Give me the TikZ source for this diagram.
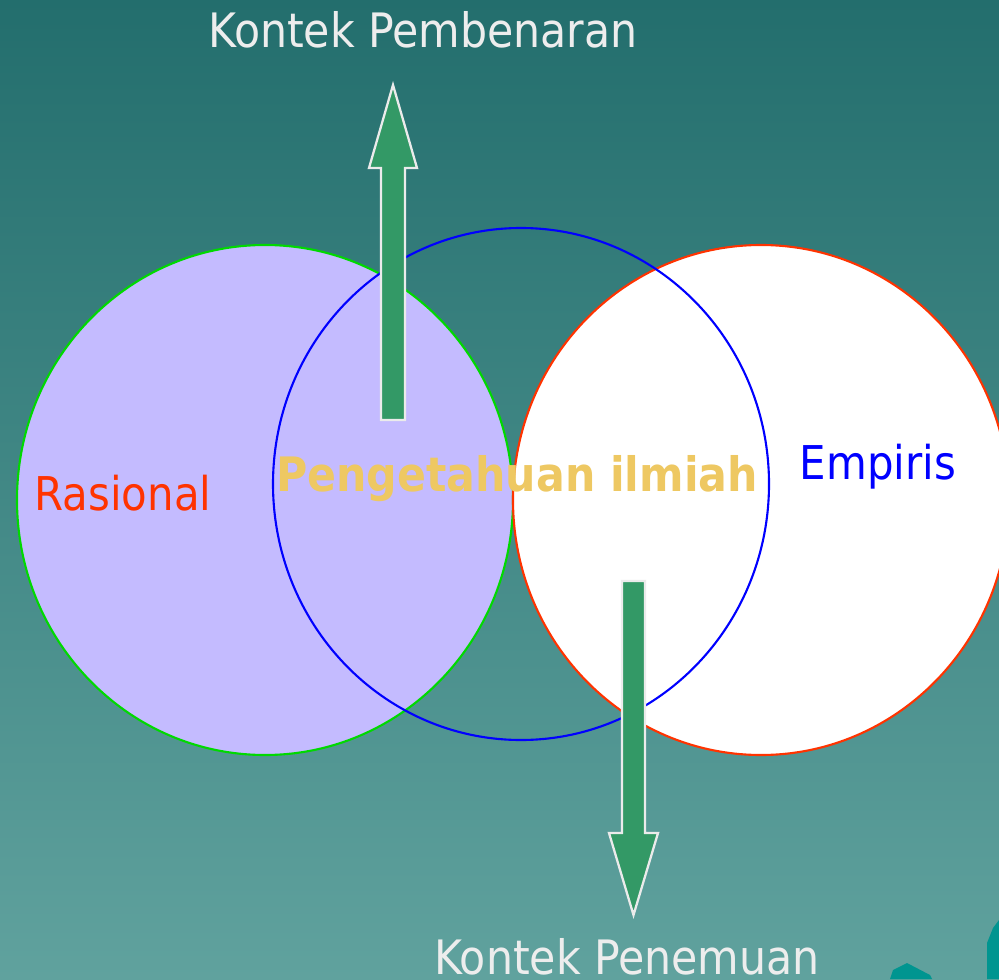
\documentclass[tikz,border=0pt]{standalone}
\usepackage{fontspec}
\setmainfont{DejaVu Sans}
\newfontfamily\condfont{DejaVu Sans Condensed}
\usepackage{tikz}
\usetikzlibrary{calc,positioning}

\definecolor{bgtop}{HTML}{236E6D}
\definecolor{bgbottom}{HTML}{60A29E}
\definecolor{lavender}{HTML}{C4BBFF}
\definecolor{arrowgreen}{HTML}{339966}
\definecolor{goldtext}{HTML}{EEC862}
\definecolor{labelred}{HTML}{FF3300}
\definecolor{cornerteal}{HTML}{009590}

\begin{document}
\begin{tikzpicture}[
	%	style def
    x=0.02cm, y=-0.02cm,
    ring line/.style={line width=1.2pt},
    block arrow/.style={fill=arrowgreen, draw=white!92!black, line width=1.3pt, line join=miter},
    title text/.style={text=white!93!black, font=\condfont\fontsize{27}{27}\selectfont, inner sep=0pt},
    side text/.style={font=\condfont\fontsize{26.5}{27}\selectfont, inner sep=0pt}
    ]
	\useasboundingbox (0,0) rectangle (999,979);
	% background
	\shade[top color=bgtop, bottom color=bgbottom] (0,0) rectangle (999,979);

	% corner decoration
	\fill[cornerteal] (890,979) -- (893,970) -- (907,963) -- (930,975) -- (932,979) -- cycle;
	\fill[cornerteal] (987,979) -- (987,943) -- (993,928) -- (999,920) -- (999,979) -- cycle;

	% circles
	\begin{scope}
	\clip (0,0) rectangle (999,979);
	\filldraw[ring line, fill=lavender, draw=green!85!black] (265,500) coordinate (rasio) ellipse (248 and 255);
	\filldraw[ring line, fill=white, draw=labelred] (761,500) coordinate (empiri) ellipse (248 and 255);
	\draw[ring line, blue] (521,484) coordinate (ilmu) ellipse (248 and 256);
	\end{scope}

	% up arrow
	\draw[block arrow] (381,420) coordinate (u1) -- (381,168) -- (369,168) -- (393,85) coordinate (utip) -- (417,168) -- (405,168) -- (405,420) -- cycle;
	% down arrow
	\draw[block arrow] (622,581) coordinate (d1) -- (622,833) -- (609,833) -- (633.5,915) coordinate (dtip) -- (658,833) -- (645,833) -- (645,581) -- cycle;

	% labels
	\node[title text] (pembenaran) at (423,30) {Kontek Pembenaran};
	\node[title text] (penemuan) at (627,957) {Kontek Penemuan};
	\node[side text, text=labelred] (rasional) at (123,493) {Rasional};
	\node[side text, text=blue] (empiris) at (878,467) {Empiris};
	\node[text=goldtext, font=\condfont\bfseries\fontsize{27}{27}\selectfont, inner sep=0pt] (pengetahuan) at (517,479) {Pengetahuan ilmiah};

\end{tikzpicture}
\end{document}
